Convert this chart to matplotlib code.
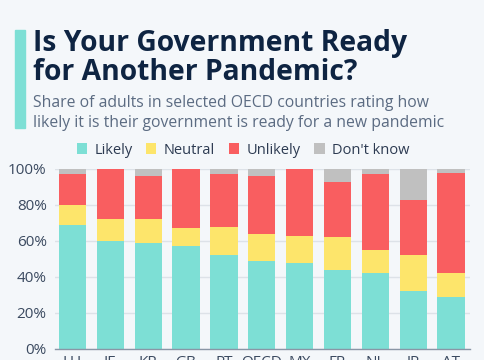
import numpy as np
import matplotlib.pyplot as plt
from matplotlib.patches import Rectangle

plt.rcParams['font.family'] = ['Open Sans', 'DejaVu Sans']

countries = ['LU', 'IE', 'KR', 'GB', 'PT', 'OECD', 'MX', 'FR', 'NL', 'JP', 'AT']
likely = [69, 60, 59, 57, 52, 49, 48, 44, 42, 32, 29]
neutral = [11, 12, 13, 10, 16, 15, 15, 18, 13, 20, 13]
unlikely = [17, 28, 24, 33, 29, 32, 37, 31, 42, 31, 56]
dont_know = [3, 0, 4, 0, 3, 4, 0, 7, 3, 17, 2]

series = [('Likely', likely, '#7ddfd5'),
          ('Neutral', neutral, '#fde56b'),
          ('Unlikely', unlikely, '#f95e60'),
          ("Don't know", dont_know, '#c0c0c0')]

bg = '#f4f7fa'
navy = '#0e2442'

fig = plt.figure(figsize=(4.85, 3.6), dpi=100, facecolor=bg)
ax = fig.add_axes([55/485, 1-349/360, 415/485, 180/360], facecolor=bg)

x = np.arange(len(countries))
bottom = np.zeros(len(countries))
handles = []
for name, vals, col in series:
    b = ax.bar(x, vals, 0.72, bottom=bottom, color=col, label=name, zorder=3)
    handles.append(b)
    bottom += np.array(vals)

ax.set_xlim(-0.46, 10.5)
ax.set_ylim(0, 100)
ax.set_yticks([0, 20, 40, 60, 80, 100])
ax.set_yticklabels(['0%', '20%', '40%', '60%', '80%', '100%'])
ax.set_xticks(x)
ax.set_xticklabels(countries)
ax.tick_params(axis='both', length=0, labelsize=11, colors='#3b4a60')
ax.tick_params(axis='y', pad=6)
ax.tick_params(axis='x', pad=4)
ax.grid(axis='y', color='#dde2e8', lw=1, zorder=0)
for s in ['top', 'right', 'left']:
    ax.spines[s].set_visible(False)
ax.spines['bottom'].set_color('#8a96a6')
ax.spines['bottom'].set_linewidth(1)
ax.spines['bottom'].set_zorder(4)

fig.legend(handles=handles, loc='center', bbox_to_anchor=(243/485, 1-150/360),
           ncol=4, frameon=False, fontsize=10.5, handlelength=0.7, handleheight=0.7,
           handletextpad=0.5, columnspacing=0.95, labelcolor='#2d3b52')

# accent bar
fig.patches.append(Rectangle((15/485, 1-128/360), 10/485, 98/360,
                             transform=fig.transFigure, color='#7ddfd5'))

fig.text(33/485, 1-43/360, 'Is Your Government Ready', fontsize=20.3,
         fontweight='bold', color=navy, va='center')
fig.text(33/485, 1-72/360, 'for Another Pandemic?', fontsize=20.3,
         fontweight='bold', color=navy, va='center')
fig.text(33/485, 1-103/360, 'Share of adults in selected OECD countries rating how',
         fontsize=11.3, color='#5b6b82', va='center')
fig.text(33/485, 1-123/360, 'likely it is their government is ready for a new pandemic',
         fontsize=11.3, color='#5b6b82', va='center')

fig.savefig('out.png', dpi=100, facecolor=bg)
